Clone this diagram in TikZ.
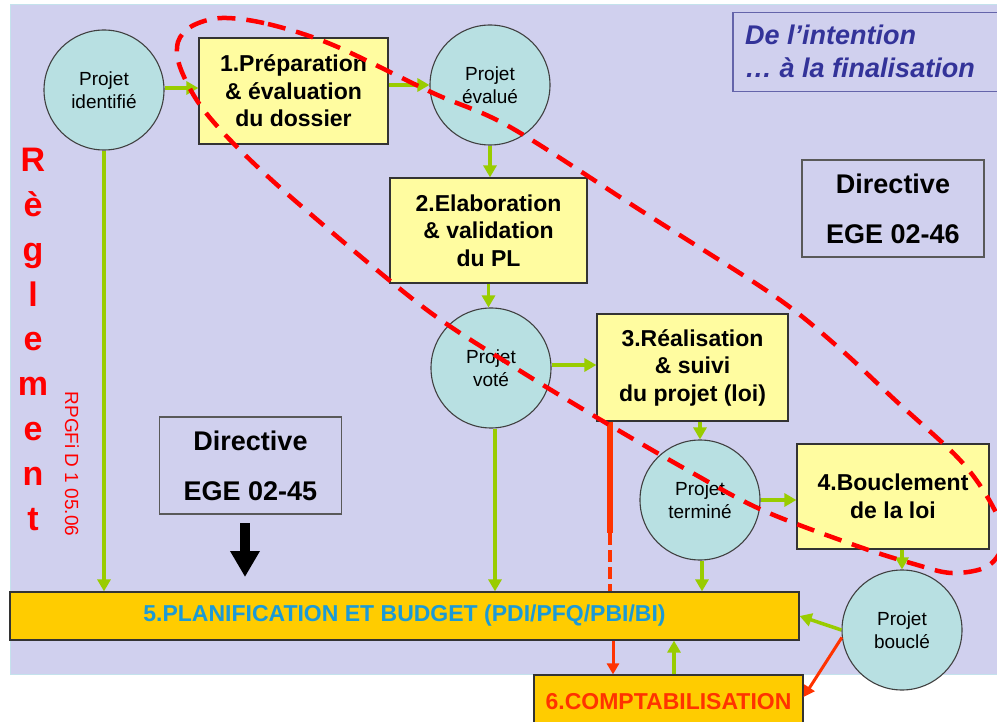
\documentclass[tikz,border=0pt]{standalone}
\usepackage{fontspec}
\setmainfont{Liberation Sans}
\usetikzlibrary{arrows.meta,calc}
\definecolor{lav}{RGB}{208,208,238}
\definecolor{bgedge}{RGB}{196,226,236}
\definecolor{boxyellow}{RGB}{255,252,160}
\definecolor{circcol}{RGB}{184,224,226}
\definecolor{orangebar}{RGB}{255,204,0}
\definecolor{agreen}{RGB}{153,204,0}
\definecolor{redor}{RGB}{255,51,0}
\definecolor{cyanblue}{RGB}{27,154,214}
\definecolor{titleblue}{RGB}{51,51,153}
\definecolor{titleedge}{RGB}{100,100,170}
\newcommand{\myfs}[2]{\fontsize{#1}{#2}\selectfont}
\tikzset{
  stepbox/.style={draw=black!80, line width=1.2pt, fill=boxyellow, inner sep=0pt, align=center, font=\myfs{23}{27.5}\bfseries},
  projcirc/.style={circle, draw=black!75, line width=1.1pt, fill=circcol, minimum size=120pt, inner sep=0pt, align=center, font=\myfs{19}{23}},
  garrow/.style={draw=agreen, line width=3.5pt, -{Triangle[length=12pt,width=13pt]}},
  rarrow/.style={draw=redor, line width=3pt, -{Triangle[length=11pt,width=12pt]}},
  dirbox/.style={draw=black!65, line width=1.5pt, inner sep=0pt, align=center, font=\myfs{27}{50}\bfseries, minimum width=182pt, minimum height=97pt},
  orbox/.style={draw=black!80, line width=1.2pt, fill=orangebar, inner sep=0pt, font=\myfs{23}{27}\bfseries},
  regl/.style={anchor=base, text=red, font=\myfs{34}{40}\bfseries, inner sep=0pt},
  ttl/.style={anchor=base west, text=titleblue, font=\myfs{27}{32}\bfseries\itshape, inner sep=0pt}
}
\begin{document}
\begin{tikzpicture}[x=1pt,y=-1pt]
\clip (0,0) rectangle (997,722);
\fill[white] (0,0) rectangle (997,722);
\draw[fill=lav, draw=bgedge, line width=1pt] (10,5) rectangle (1010,674);

% title
\node[draw=titleedge, line width=1.5pt, minimum width=278pt, minimum height=79pt, anchor=north west, inner sep=0pt] (title) at (732,12) {};
\node[ttl] (t1) at (745,45) {De l’intention};
\node[ttl] (t2) at (745,78) {… à la finalisation};

% directives
\node[dirbox] (d46) at (893,208.5) {Directive\\EGE 02-46};
\node[dirbox] (d45) at (250.5,465.5) {Directive\\EGE 02-45};

% Reglement
\foreach \ch [count=\i from 0] in {R,è,g,l,e,m,e,n,t}
  \node[regl] (reg\i) at (33,172+44.75*\i) {\ch};
\node[rotate=-90, text=red, font=\myfs{19}{22}, inner sep=0pt] (rpg) at (72,464) {RPGFi D 1 05.06};

% project circles and steps
\node[projcirc] (pid) at (104,90) {Projet\\identifié};
\node[stepbox, minimum width=189pt, minimum height=106pt] (b1) at (293.5,91) {1.Préparation\\\& évaluation\\du dossier};
\node[projcirc] (pev) at (490,85) {Projet\\évalué};
\node[stepbox, minimum width=197pt, minimum height=105pt] (b2) at (488.5,230.5) {2.Elaboration\\\& validation\\du PL};
\node[projcirc] (pvo) at (491,368) {Projet\\voté};
\node[stepbox, minimum width=191pt, minimum height=107pt] (b3) at (692.5,367.5) {3.Réalisation\\\& suivi\\du projet (loi)};
\node[projcirc] (pte) at (700,500) {Projet\\terminé};
\node[stepbox, minimum width=192pt, minimum height=105pt] (b4) at (893,496.5) {4.Bouclement\\de la loi};
\node[projcirc] (pbo) at (902,630) {Projet\\bouclé};

% bars
\node[orbox, minimum width=789pt, minimum height=48pt, text=cyanblue] (bar) at (404.5,616) {5.PLANIFICATION ET BUDGET (PDI/PFQ/PBI/BI)};
\node[orbox, minimum width=269pt, minimum height=54pt, text=redor] (b6) at (668.5,702) {6.COMPTABILISATION};

% green flow arrows
\draw[garrow] (pid.east |- 0,88) -- (b1.west |- 0,88);
\draw[garrow] (b1.east |- pev) -- (pev.west);
\draw[garrow] (pev.south) -- (b2.north -| pev.south);
\draw[garrow] (b2.south) -- (b2.south |- pvo.north);
\draw[garrow] (pvo.east |- 0,365) -- (b3.west |- 0,365);
\draw[garrow] (b3.south -| pte) -- (pte.north);
\draw[garrow] (pte.east) -- (pte.east -| b4.west);
\draw[garrow] (b4.south -| pbo) -- (pbo.north);
\draw[garrow] (pid.south) -- (pid.south |- bar.north);
\draw[garrow] (pvo.south -| 495,0) -- (bar.north -| 495,0);
\draw[garrow] (pte.south -| 702,0) -- (bar.north -| 702,0);
\draw[garrow] (pbo.west) -- (bar.east);
\coordinate (gx) at (674,0);
\draw[garrow] (b6.north -| gx) -- (bar.south -| gx);

% red arrows
\coordinate (rx) at (613,0);
\draw[rarrow] (bar.south -| rx) -- (b6.north -| rx);
\draw[rarrow] (pbo.187) -- ([yshift=5pt]b6.east);
\coordinate (rm) at (610,533);
\draw[draw=redor, line width=5.5pt] (b3.south -| rm) -- (rm);
\draw[draw=redor, line width=3.5pt, dash pattern=on 12pt off 5pt] (rm) -- (bar.north -| rm);

% black arrow
\coordinate (ka) at (245,523);
\coordinate (kb) at (245,577);
\draw[line width=10pt, -{Triangle[length=26pt,width=28pt]}] (ka) -- (kb);

% red dashed loop
\draw[red, line width=4.5pt, dash pattern=on 18pt off 11pt]
  plot[smooth cycle, tension=0.55] coordinates {
  (222,18) (268,24) (333,45) (433,93) (510,127) (640,210) (773,295) (838,347)
  (895,400) (960,460) (992,505) (1004,540) (988,566) (952,573) (914,564)
  (857,546) (762,510) (689,471) (606,423) (514,367) (423,307) (300,205)
  (237,147) (200,105) (180,67) (178,42) (192,26)};
\end{tikzpicture}
\end{document}
